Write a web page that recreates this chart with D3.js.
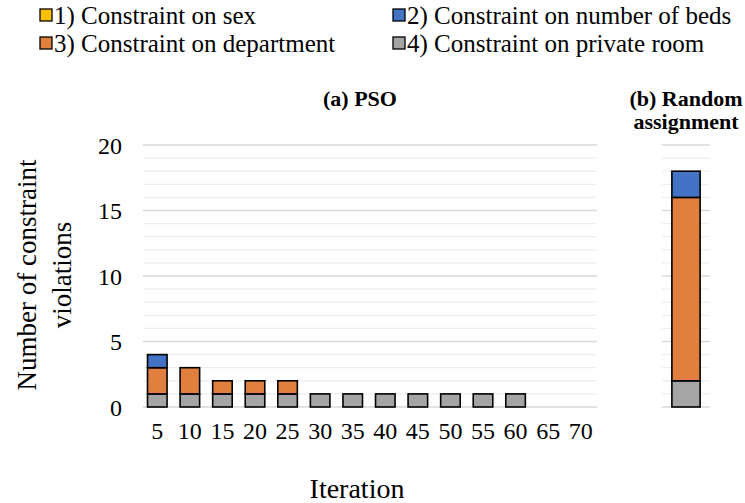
<!DOCTYPE html>
<html><head><meta charset="utf-8">
<script src="https://cdn.jsdelivr.net/npm/d3@7"></script>
<style>body{margin:0;background:#fff}svg{display:block}svg text{font-family:"Liberation Serif","Times New Roman",Times,Tinos,"DejaVu Serif",serif !important;fill:#000}</style>
</head><body><svg id="c" width="745" height="503"></svg>
<script>
const iterations = [5,10,15,20,25,30,35,40,45,50,55,60,65,70];
const sexPSO   = [0,0,0,0,0,0,0,0,0,0,0,0,0,0];
const bedsPSO  = [1,0,0,0,0,0,0,0,0,0,0,0,0,0];
const deptPSO  = [2,2,1,1,1,0,0,0,0,0,0,0,0,0];
const privPSO  = [1,1,1,1,1,1,1,1,1,1,1,1,0,0];
const randomValues = {sex:0, beds:2, dept:14, priv:2};
const seriesKeys = ["priv","dept","beds","sex"];
const seriesNames = {sex:"1) Constraint on sex", beds:"2) Constraint on number of beds", dept:"3) Constraint on department", priv:"4) Constraint on private room"};
const colors = {sex:"#ffc000", beds:"#4472c4", dept:"#e07f3e", priv:"#a5a5a5"};
const yTicks = [0,5,10,15,20];
const FONT = '"Liberation Serif", "Times New Roman", Times, serif';

const svg = d3.select("#c");
const y = d3.scaleLinear().domain([0,20]).range([407,145]);
const xa = d3.scaleBand().domain(iterations).range([141,597]).paddingInner(0.4).paddingOuter(0.2);
const xb = d3.scaleBand().domain(["R"]).range([662,710]).paddingInner(0.4).paddingOuter(0.21);

function grid(x0,x1){
  const g = svg.append("g");
  g.selectAll("line").data(d3.range(1,21)).join("line")
    .attr("x1",x0).attr("x2",x1).attr("y1",d=>y(d)).attr("y2",d=>y(d))
    .attr("stroke",d=>d%5===0?"#d9d9d9":"#eeeeee").attr("stroke-width",1.3);
  g.append("line").attr("x1",x0).attr("x2",x1).attr("y1",y(0)).attr("y2",y(0)).attr("stroke","#d9d9d9").attr("stroke-width",1.5);
}
grid(143,597);
grid(662,710);

const yAxis = svg.append("g").attr("transform","translate(122,0)")
  .call(d3.axisLeft(y).tickValues(yTicks).tickSize(0).tickPadding(0));
yAxis.attr("font-family",FONT);
yAxis.select(".domain").remove();
yAxis.selectAll("text").attr("font-size",24).style("font-family",FONT).attr("dy","0.35em");

const xAxis = svg.append("g").attr("transform","translate(0,420)")
  .call(d3.axisBottom(xa).tickSize(0).tickPadding(0));
xAxis.attr("font-family",FONT);
xAxis.select(".domain").remove();
xAxis.selectAll("text").attr("font-size",24).style("font-family",FONT).attr("dy","0.8em");

const rows = iterations.map((it,i)=>({it, sex:sexPSO[i], beds:bedsPSO[i], dept:deptPSO[i], priv:privPSO[i]}));
const stack = d3.stack().keys(seriesKeys);
stack(rows).forEach(layer=>{
  svg.append("g").selectAll("rect").data(layer.filter(d=>d[1]-d[0]>0)).join("rect")
    .attr("x",d=>xa(d.data.it)).attr("width",xa.bandwidth())
    .attr("y",d=>y(d[1])).attr("height",d=>y(d[0])-y(d[1]))
    .attr("fill",colors[layer.key]).attr("stroke","#000").attr("stroke-width",1.6);
});
stack([Object.assign({it:"R"},randomValues)]).forEach(layer=>{
  svg.append("g").selectAll("rect").data(layer.filter(d=>d[1]-d[0]>0)).join("rect")
    .attr("x",xb("R")).attr("width",xb.bandwidth())
    .attr("y",d=>y(d[1])).attr("height",d=>y(d[0])-y(d[1]))
    .attr("fill",colors[layer.key]).attr("stroke","#000").attr("stroke-width",1.6);
});

function txt(x,yy,s,size,bold,anchor){
  return svg.append("text").attr("x",x).attr("y",yy).attr("text-anchor",anchor||"middle")
    .attr("font-size",size).attr("font-weight",bold?"bold":"normal").style("font-family",FONT).text(s);
}
txt(360,106,"(a) PSO",22,true);
txt(686,106,"(b) Random",22,true);
txt(686,129,"assignment",22,true);
txt(357,498,"Iteration",28,false);
const yt = svg.append("text").attr("transform","translate(0,275) rotate(-90)").attr("text-anchor","middle").attr("font-size",27).style("font-family",FONT);
yt.append("tspan").attr("x",0).attr("y",36).text("Number of constraint");
yt.append("tspan").attr("x",0).attr("y",71).text("violations");

const legendOrder = ["sex","beds","dept","priv"];
legendOrder.forEach((k,i)=>{
  const cx = i%2===0 ? 40 : 393;
  const cy = i<2 ? 24 : 52;
  svg.append("rect").attr("x",cx).attr("y",cy-15).attr("width",12).attr("height",12)
    .attr("fill",colors[k]).attr("stroke","#000").attr("stroke-width",1.3);
  txt(cx+14,cy,seriesNames[k],25,false,"start");
});
</script></body></html>
